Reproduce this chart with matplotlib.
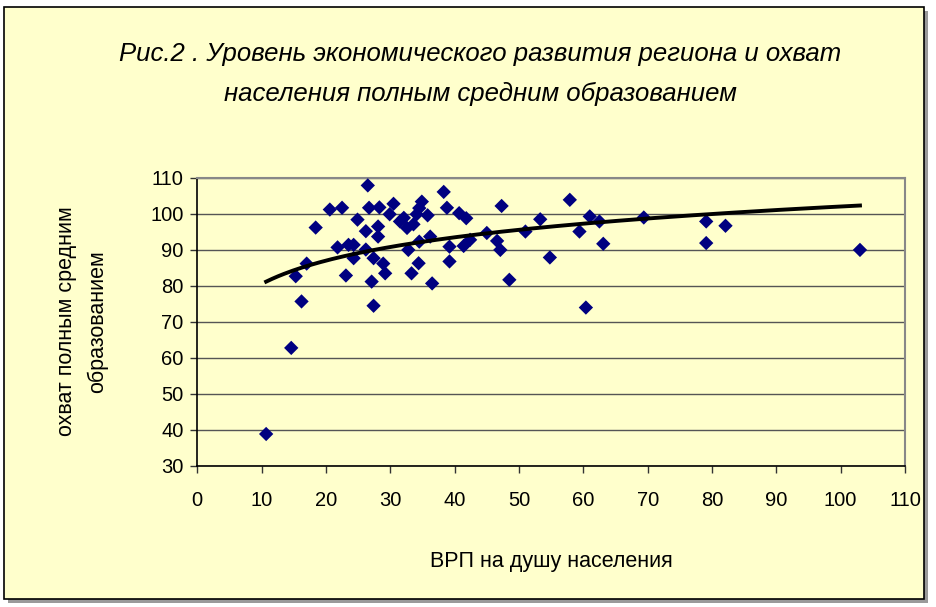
import numpy as np
import matplotlib
matplotlib.use("Agg")
import matplotlib.pyplot as plt
from matplotlib.patches import Rectangle
from matplotlib import font_manager

# ВРП на душу населения / охват полным средним образованием
grp = [10.7, 14.6, 15.3, 16.2, 17.0, 18.4, 20.6, 22.5, 21.8, 23.1,
       23.5, 24.3, 24.3, 24.9, 26.2, 26.2, 26.5, 26.7, 27.1, 27.4,
       27.4, 28.1, 28.1, 28.3, 28.9, 29.2, 29.9, 30.5, 31.5, 32.1,
       32.6, 32.8, 33.3, 33.6, 34.1, 34.4, 34.5, 34.5, 34.9, 35.8,
       36.2, 36.5, 38.3, 38.8, 39.2, 39.2, 40.7, 41.4, 41.8, 42.4,
       45.0, 46.6, 47.1, 47.3, 48.5, 51.0, 53.3, 54.8, 57.9, 59.4,
       60.4, 61.0, 62.5, 63.1, 69.4, 79.1, 79.1, 82.1, 103.0]
coverage = [38.8, 62.7, 82.6, 75.6, 86.1, 96.1, 101.1, 101.6, 90.6, 82.8,
            91.3, 91.3, 87.6, 98.3, 95.1, 90.0, 107.8, 101.6, 81.1, 87.6,
            74.4, 96.4, 93.6, 101.7, 86.1, 83.4, 99.8, 102.7, 97.8, 98.8,
            96.0, 89.9, 83.4, 97.0, 99.8, 86.2, 92.2, 101.5, 103.3, 99.5,
            93.6, 80.6, 106.0, 101.6, 90.8, 86.7, 100.1, 91.0, 98.7, 92.7,
            94.6, 92.4, 89.9, 102.1, 81.6, 95.0, 98.4, 87.8, 103.8, 95.0,
            73.9, 99.2, 97.8, 91.6, 98.9, 97.8, 91.8, 96.6, 89.9]

title = ("Рис.2 . Уровень экономического развития региона и охват\n"
         "населения полным средним образованием")
xlabel = "ВРП на душу населения"
ylabel = "охват полным средним\nобразованием"

names = {f.name for f in font_manager.fontManager.ttflist}
fam = ["Liberation Sans Narrow", "Liberation Sans", "DejaVu Sans"]
fam = [f for f in fam if f in names] or ["DejaVu Sans"]
plt.rcParams["font.family"] = fam

bg = "#FFFFCC"
fig = plt.figure(figsize=(9.36, 6.07), dpi=100, facecolor="white")

# chart area with shadow and border
fig.patches.append(Rectangle((8 / 936, 4 / 607), 920 / 936, 592 / 607,
                             transform=fig.transFigure, facecolor="#9a9a9a",
                             edgecolor="none", zorder=-2))
fig.patches.append(Rectangle((4 / 936, 8 / 607), 920 / 936, 592 / 607,
                             transform=fig.transFigure, facecolor=bg,
                             edgecolor="black", linewidth=1.2, zorder=-1))

ax = fig.add_axes([197.3 / 936, 1 - 465.7 / 607, (905 - 197.3) / 936, (465.7 - 177.5) / 607])
ax.set_zorder(1)
ax.set_facecolor(bg)

ax.scatter(grp, coverage, marker="D", s=7.3 ** 2, color="#000080",
           edgecolors="none", zorder=3)

# logarithmic trend line
a, b = np.polyfit(np.log(grp), coverage, 1)
xt = np.linspace(min(grp), max(grp), 200)
ax.plot(xt, a * np.log(xt) + b, color="black", linewidth=2.8, zorder=4)

ax.set_xlim(0, 110)
ax.set_ylim(30, 110)
ax.set_xticks(np.arange(0, 111, 10))
ax.set_yticks(np.arange(30, 111, 10))
ax.grid(axis="y", color="#555555", linewidth=1.0)
ax.set_axisbelow(True)
ax.tick_params(labelsize=14.5, direction="out", length=5, width=1, color="#333333", pad=5)
ax.tick_params(axis="x", pad=13)
for side in ["top", "right"]:
    ax.spines[side].set_color("#888888")
    ax.spines[side].set_linewidth(1.5)
for side in ["left", "bottom"]:
    ax.spines[side].set_color("black")
    ax.spines[side].set_linewidth(1.2)

ax.set_xlabel(xlabel, fontsize=15.5, labelpad=30)
ax.set_ylabel(ylabel, fontsize=15.5, labelpad=30, linespacing=1.6)

fig.text(480 / 936, 1 - 74 / 607, title, ha="center", va="center",
         fontsize=18.5, style="italic", linespacing=1.85)

fig.savefig("out.png", dpi=100, facecolor="white")
